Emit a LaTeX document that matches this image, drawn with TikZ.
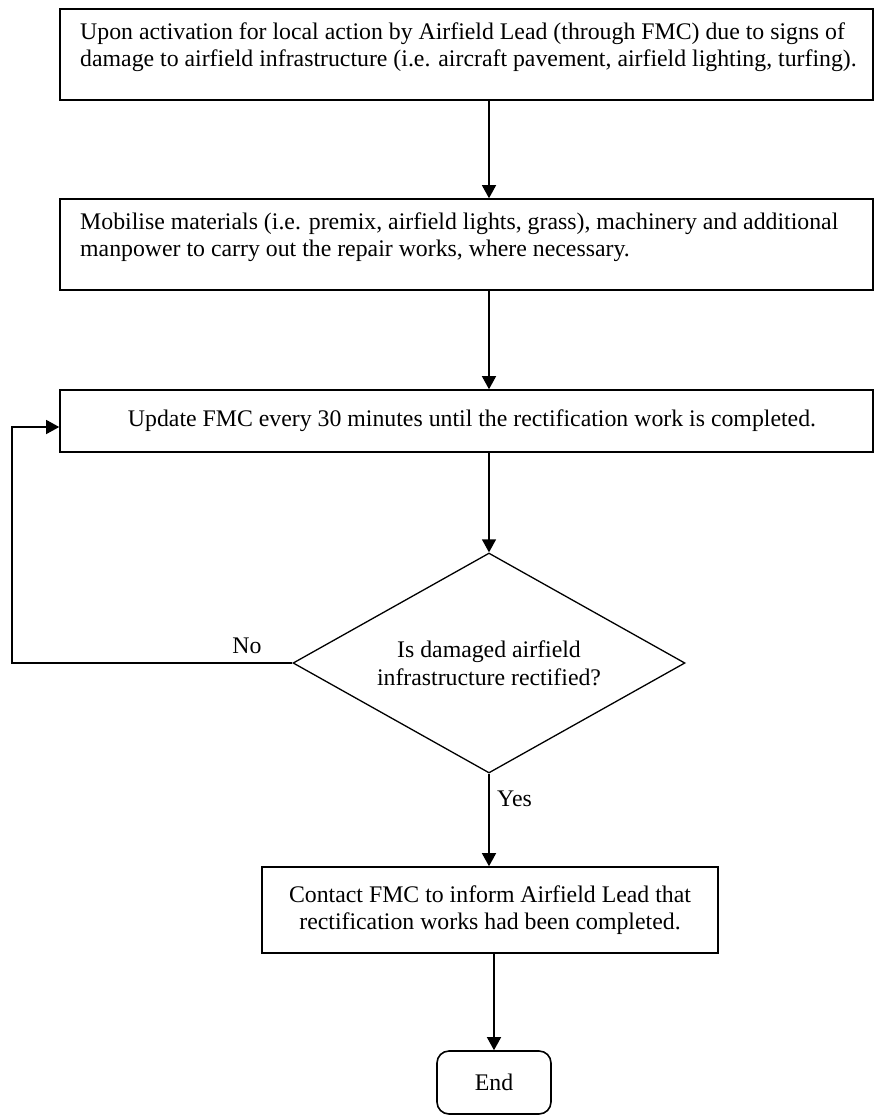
\documentclass[tikz,border=0pt]{standalone}
\usepackage{fontspec}
\setmainfont{Liberation Serif}
\usetikzlibrary{shapes.geometric,arrows.meta}
\begin{document}
\begin{tikzpicture}[x=1pt,y=-1pt,
  font=\fontsize{23.8}{27.6}\selectfont,
  box/.style={draw, line width=1.6pt, rectangle, inner sep=0pt},
  txt/.style={inner sep=0pt},
  arr/.style={line width=1.3pt, -{Triangle[length=13pt,width=14pt]}},
  ln/.style={line width=1.3pt}]
\useasboundingbox (0,0) rectangle (875,1117);

% boxes
\node[box, minimum width=813pt, minimum height=91pt] (b1) at (466.5,54.5) {};
\node[txt, anchor=north west, align=left] (t1) at (80,19.5)
  {\strut Upon activation for local action by Airfield Lead (through FMC) due to signs of\\
   damage to airfield infrastructure (i.e. aircraft pavement, airfield lighting, turfing).};

\node[box, minimum width=813pt, minimum height=91pt] (b2) at (466.5,244.5) {};
\node[txt, anchor=north west, align=left] (t2) at (80,209.5)
  {\strut Mobilise materials (i.e. premix, airfield lights, grass), machinery and additional\\
   manpower to carry out the repair works, where necessary.};

\node[box, minimum width=813pt, minimum height=62pt] (b3) at (466.5,421)
  {\hspace*{11pt}Update FMC every 30 minutes until the rectification work is completed.};

\node[diamond, draw, line width=1.3pt, aspect=1.78, inner sep=0pt,
      minimum width=392pt, minimum height=220pt, align=center] (d) at (489,663)
  {Is damaged airfield\\infrastructure rectified?};

\node[box, minimum width=456pt, minimum height=86pt, align=center] (b4) at (490,910)
  {Contact FMC to inform Airfield Lead that\\rectification works had been completed.};

\node[box, rounded corners=12pt, minimum width=114pt, minimum height=63pt] (e) at (494,1082.5)
  {End};

% labels
\node[txt, anchor=base] (no) at (247,653) {No};
\node[txt, anchor=base west] (yes) at (497,806) {Yes};

% connectors
\draw[arr] (b1.south -| d.north) -- (b2.north -| d.north);
\draw[arr] (b2.south -| d.north) -- (b3.north -| d.north);
\draw[arr] (b3.south -| d.north) -- (d.north);
\draw[arr] (d.south) -- (d.south |- b4.north);
\draw[arr] (b4.south -| e.north) -- (e.north);
\coordinate (lp1) at (12,663);
\coordinate (lp2) at (12,427);
\draw[arr] (d.west) -- (lp1) -- (lp2) -- (lp2 -| b3.west);
\end{tikzpicture}
\end{document}
